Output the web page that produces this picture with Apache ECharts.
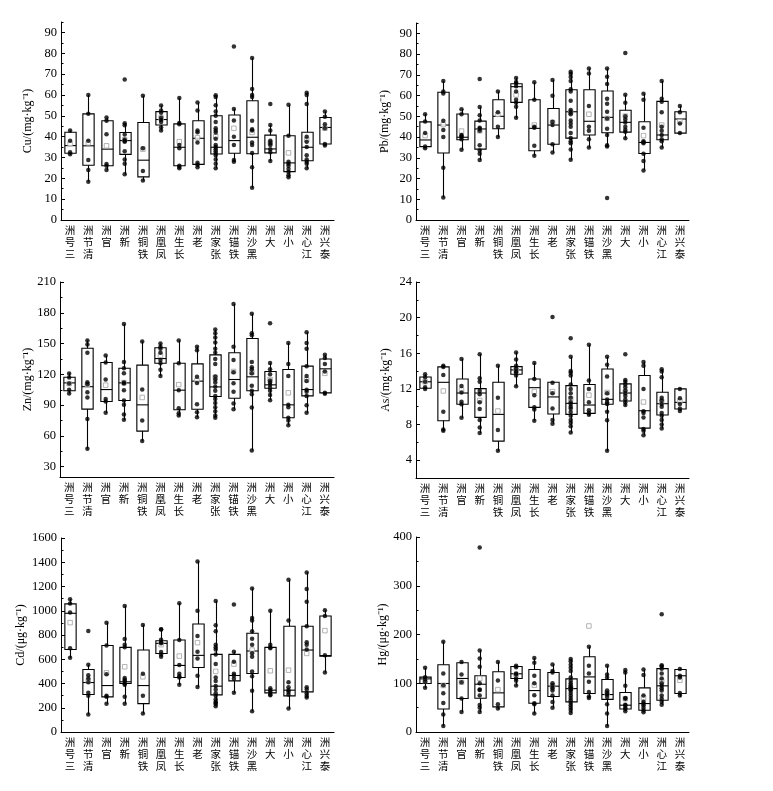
<!DOCTYPE html>
<html><head><meta charset="utf-8">
<script src="https://cdn.jsdelivr.net/npm/echarts@6/dist/echarts.min.js"></script>
<style>html,body{margin:0;padding:0;background:#fff}#c{width:773px;height:791px}</style>
</head><body><div id="c"></div>
<script>
const categories = ['三号洲','清节洲','官洲','新洲','铁铜洲','凤凰洲','长生洲','老洲','张家洲','铁锚洲','黑沙洲','大洲','小洲','江心洲','泰兴洲'];

// box stats: [lower whisker, Q1, median, Q3, upper whisker]
const cuBox = [[31.2,32,35.7,42.1,43],[18.4,26.3,35.6,50.9,60],[24,26,34,47.6,49.2],[21.9,31.5,38.1,42,46.4],[18.9,20.7,28.7,46.8,59.6],[43,45.6,48.2,52,54.9],[24.8,26,34.9,46.1,58.5],[25.3,26.7,39.2,47.6,56.4],[24.8,31.7,34.9,50,59.6],[28,32,38.1,50.4,53.2],[15.5,31.8,39.7,57.2,77.7],[28.3,32.2,34.1,40.7,45.6],[20.5,23.2,27.4,40.4,55.3],[24.8,28.4,34.9,42.1,61.2],[35.7,36.5,44.4,49.2,52]];
const cuMean = [36.5,37,35.6,38.5,34,49,37.6,39.5,40,44,42,37,32.2,38.5,44];
const cuPts = [[43,38,32.5,31.5],[60,51,38,28.8,24,18.4],[49.2,47.6,41.2,26.9,26,24],[67.4,46.4,45.5,41,38.5,38,37.5,33,29,27,21.9],[59.6,34.4,23.5,18.9],[54.9,52.5,51.5,49,48,47,44.5,43],[58.5,46.5,46,36,34.4,26,25.5,24.8],[56.4,52.5,42.9,42.1,37.2,27.5,26.5,25.3],[59.8,59,55,52,50,47,44,43,42,39,36,35,34,33,32,31,29,27,24.8],[83.3,53.2,47.7,40,36,28.8,28],[77.7,62.9,60,59,47.6,43.6,43,37.2,36,32.2,25.3,15.5],[55.7,45.6,43,38,37,36,34,32.5,28.3],[55.3,40.4,27.9,27,26,24.5,23,21.5,20.5],[61,60,55.6,40,37.5,35,31.1,29,28,27,24.8],[52,49.5,46,44,36.5,35.8]];

const pbBox = [[34.6,35.4,38.6,47.3,51.1],[10.9,32.3,45.8,61.6,67],[33.9,38.7,39.9,51.1,53.4],[28.9,34.2,43.9,47.7,54.5],[40,44,50,58,62],[49.3,56.7,64.3,65.7,68.5],[31,33.4,44.2,58,66.4],[32.5,36.5,45.8,53.8,67.5],[29.1,39.5,52.2,62.8,71.5],[35,41,47.6,62.8,73],[35.4,42.1,49.5,62.2,73],[39.4,42.4,47.1,52.9,60.4],[23.9,32.1,37.4,47.4,60.9],[35,38.7,41,57.2,67],[41.9,41.9,48.7,52.2,55]];
const pbMean = [40.7,46,42.9,43,51,60.3,45.8,47,52,51,49,50.1,40.7,45.8,47.5];
const pbPts = [[51,47.5,42,35.5,34.6],[67,62,61,47.9,43.4,40,25.2,10.9],[53.4,51,41,40.5,40,39,33.9],[68,54.5,50.5,48,44.5,44,43,36,33.5,32,28.9],[62,52,45,40],[68.5,66.5,66,64.5,62,58,56.5,54.6,49.3],[66.4,58,45,44.5,35.8,31],[67.5,59.9,47.4,45.8,36.5,32.5],[71.5,70.5,69,67,63,62,57.5,53,52,51,48,46.5,45,42,39.5,38,37,34,29.1],[73,70.6,55,45,43,39,35],[73,69.1,65.6,58.5,56.1,52.2,49,44,41,36,35.4,10.6],[80.5,60.4,56.5,50,48.5,47,45,43.5,42.5,39.4],[60.9,58,44.5,38,37.5,37,32,28.5,23.9],[67,58.5,57,52,45,43,41,39,38,35],[55,52,46.5,41.9]];

const znBox = [[101.4,104,111.7,117.2,120.8],[47.5,86.1,108,145.5,153],[82.5,93.6,105.2,131.5,138.3],[75.7,94.5,111.7,126,169],[55,64.7,90.3,129,152],[118.5,130.9,135.4,146,150],[79,85.5,104.6,130.9,153],[78.3,86,113.4,130.2,147],[77.7,98.4,107.8,139,163.6],[86,96.8,115,141,188.6],[45.9,104,117.6,154.9,179],[94.9,106.5,109.8,122.8,131],[70.5,77.7,90.3,124.7,150.6],[82.5,99,105.2,128,161],[101,102,125.4,135,139]];
const znMean = [111,110,109.5,112,97.5,138.3,110,114,117,122.8,121.8,115,102,114.7,121];
const znPts = [[120.8,117,111,105,101.4],[153,149,141,112.4,110.4,102.6,97.5,76.4,47.5],[138.3,131.5,115,96,93.6,82.5],[169,132,126,121,112,111,104.6,94.5,90.3,81,75.7],[152,105.2,75,55],[150,147,145,141,134,130.9,124.4,118.5],[153,130.9,104.6,87,82,80],[147,143.5,117.6,111.7,91,83,78.3],[163.6,160,156,151,145,141,135,130,118,115,112,108,104,99,96,92,88,84,80,77.7],[188.6,147,134,122,111.4,103,91.6,86],[179,160,158,132,127,125,121,109,104,100.7,87.7,45.9],[169.8,131,125,120,114,112,110,107,104,100,94.9],[150.6,130,118.5,90.3,88,77.7,75,70.5],[161,150.6,145,128,118.5,113.5,105,103,99,90,82.5],[139,136,130,122.8,102,101]];

const asBox = [[12,12.07,12.8,13.34,13.64],[7.3,8.43,12.74,14.47,14.6],[8.77,10.27,11.54,13.12,15.37],[7.04,8.8,11.54,12.03,15.9],[5.05,6.14,9.14,12.74,14.6],[12.3,13.64,14.13,14.5,16.1],[8.43,9.93,12.14,13.12,14.92],[8.1,9.18,11.1,12.74,12.74],[7.1,9.14,10.38,12.37,15.6],[8.95,9.25,10.19,12.5,16.95],[5.05,10.27,10.83,14.24,15.6],[10.1,10.64,11.54,12.56,13],[6.8,7.6,9.55,13.5,15.03],[7.56,9.07,10.34,11.62,14.2],[9.52,9.74,10.49,12,12.1]];
const asMean = [12.8,11.77,11.88,10.7,9.52,14.1,11.7,11.7,10.9,11.3,11.6,11.7,10.53,10.6,10.6];
const asPts = [[13.64,13.3,12.8,12.2,12],[14.6,14.47,13.57,9.44,7.45,7.3],[15.37,12.33,11.6,10.57,10.27,8.77],[15.9,13.2,12.8,11.8,11.4,10.5,9.74,8.5,7.67,7.04],[14.6,11,7.38,5.05],[16.1,15.3,14.6,14.3,14,13.8,13.5,12.3],[14.92,13.1,11.3,9.93,9.7,8.43],[20.06,12.7,11.5,9.8,8.5,8.1],[17.7,15.6,14,13.8,13.5,12.5,12,11.5,11,10.5,10.3,10,9.8,9.4,9,8.5,8.2,7.8,7.1],[16.95,12.93,12,10.5,9.6,9.3,9.1],[15.6,14.7,13.4,11.5,10.8,10.5,10.3,9.44,8.47,5.05],[15.9,13,12.8,12.5,12.2,11.8,11.5,11.2,10.8,10.5,10.2],[15.03,14.6,12,9.5,9.3,8.8,7.5,7.3,6.8],[14.2,13.95,13.3,11,10.7,10.3,10,9.3,9,8.5,8,7.56],[12,10.94,10.3,9.8,9.52]];

const cdBox = [[612,681,979,1057,1095],[145,309,408,516,554],[232,290,383,714,902],[234,400,414,698,1040],[152,234,383,676,883],[621,648,731,753,847],[389,450,549,759,1062],[372,532,632,891,1407],[212,306,378,640,1081],[323,422,466,640,662],[171,483,668,814,1183],[303,323,345,698,1001],[193,298,345,872,1255],[284,331,676,872,1316],[491,626,630,957,1005]];
const cdMean = [902,420,488,538,455,720,626,737,500,560,676,505,510,648,836];
const cdPts = [[1095,1060,985,690,612],[833,554,469,441,410,323,298,145],[902,714,477,298,290,232],[1040,767,720,698,445,430,420,400,390,290,234],[883,480,298,152],[847,845,760,740,731,660,640,621],[1062,759,552,480,460,450,389],[1407,1001,792,662,607,463,372],[1081,880,830,720,700,680,640,560,450,420,380,350,320,300,270,250,240,230,212],[1051,662,580,480,466,440,323],[1183,940,920,830,770,720,650,620,500,460,340,171],[1001,720,700,690,360,345,330,310,303],[1255,920,410,370,345,330,310,193],[1316,1180,1075,872,740,720,680,370,350,320,300,284],[1005,957,632,491]];

const hgBox = [[90.6,99.5,109,112.5,131.7],[12.3,47.3,99.5,138,185],[41.2,68.6,109.8,142,143.4],[41,69.3,98,115.3,167.4],[46.7,51.5,80.3,123.5,143.4],[95.4,109.8,119.4,134.5,136],[37.7,59,85,128.3,151.6],[50,72.7,94,122,138.6],[39,61.7,89,109,150],[70,79,113,154.4,175],[12.3,67,76.8,107.7,136],[42.5,47.3,55,81,127],[40.5,44.6,58.3,90.6,128.3],[56,65,94.7,130,137],[72,79,115.3,128.3,130]];
const hgMean = [105,95.4,102,110,87,117,96,95,90,217.5,80,68,70,104.3,106];
const hgPts = [[131.7,112.5,108,103,90.6],[185,120,96,79.6,59.7,35.7,12.3],[143.4,118,102,68.6,41.2],[378.7,167.4,151,133.8,100,87,86,75,55.6,50,41],[143.4,105.7,57,48],[136,133,120,118,109.8,105,95.4],[151.6,142,115.3,100,75.5,59,57,37.7],[138.6,125,122,100,95,90,85,75,61.7,50],[150,145,138,132,125,112,105,100,96,92,90,88,85,80,75,70,65,60,55,50,45,39],[175,136,120,103,82,73,70],[136,118,112,85,80,76.8,72,57,37.7,12.3],[127,122,95,70,68,56,55,50,47.3,42.5],[128.3,117,74.8,62,58.3,55,50,44.6,40.5],[241.5,137,135,130,120,110,100,94.7,90,85,75,68,62,56],[129,115.3,112,80,75]];

const yNames = ['Cu/(mg·kg⁻¹)','Pb/(mg·kg⁻¹)','Zn/(mg·kg⁻¹)','As/(mg·kg⁻¹)','Cd/(μg·kg⁻¹)','Hg/(μg·kg⁻¹)'];
const yMin = [0,0,20,2,0,0];
const yMax = [95,95,210,24,1600,400];
const yMajor = [[0,10,20,30,40,50,60,70,80,90],[0,10,20,30,40,50,60,70,80,90],[30,60,90,120,150,180,210],[4,8,12,16,20,24],[0,200,400,600,800,1000,1200,1400,1600],[0,100,200,300,400]];
const yMinor = [[5,15,25,35,45,55,65,75,85,95],[5,15,25,35,45,55,65,75,85,95],[45,75,105,135,165,195],[2,6,10,14,18,22],[100,300,500,700,900,1100,1300,1500],[50,150,250,350]];

const panels = [
  {box:cuBox, mean:cuMean, pts:cuPts, grid:{left:61,top:22,width:273,height:198}, gap:27},
  {box:pbBox, mean:pbMean, pts:pbPts, grid:{left:416,top:23,width:273,height:197}, gap:25},
  {box:znBox, mean:znMean, pts:znPts, grid:{left:60,top:282,width:274,height:195}, gap:25},
  {box:asBox, mean:asMean, pts:asPts, grid:{left:416,top:282,width:273,height:196}, gap:24},
  {box:cdBox, mean:cdMean, pts:cdPts, grid:{left:61,top:538,width:273,height:194}, gap:34},
  {box:hgBox, mean:hgMean, pts:hgPts, grid:{left:416,top:537,width:273,height:195}, gap:27}
];

const serif = '"Liberation Serif","Times New Roman",serif';
const cjk = '"Noto Sans CJK SC","Noto Sans CJK JP",sans-serif';

function renderBox(params, api) {
  const x = api.value(0);
  const lo = api.coord([x, api.value(1)]);
  const q1 = api.coord([x, api.value(2)]);
  const md = api.coord([x, api.value(3)]);
  const q3 = api.coord([x, api.value(4)]);
  const hi = api.coord([x, api.value(5)]);
  const w = api.size([1, 0])[0] * 0.62;
  const cx = Math.round(q1[0]) + 0.5;
  const st = {stroke:'#000', lineWidth:1.1, fill:'none'};
  return {type:'group', children:[
    {type:'line', shape:{x1:cx,y1:hi[1],x2:cx,y2:q3[1]}, style:st},
    {type:'line', shape:{x1:cx,y1:q1[1],x2:cx,y2:lo[1]}, style:st},
    {type:'rect', shape:{x:cx-w/2,y:q3[1],width:w,height:q1[1]-q3[1]}, style:st},
    {type:'line', shape:{x1:cx-w/2,y1:md[1],x2:cx+w/2,y2:md[1]}, style:st}
  ]};
}

const grid = [], xAxis = [], yAxis = [], series = [];
panels.forEach((p, i) => {
  grid.push(p.grid);
  xAxis.push({type:'category', gridIndex:i, data:categories, boundaryGap:true,
    axisLine:{lineStyle:{color:'#000', width:1}},
    axisTick:{inside:true, alignWithLabel:true, length:4, lineStyle:{color:'#000'}},
    axisLabel:{interval:0, margin:4, color:'#000', fontFamily:cjk, fontSize:10.5, lineHeight:12,
      formatter:v => v.split('').reverse().join('\n')},
    splitLine:{show:false}});
  yAxis.push({type:'value', gridIndex:i, position:'left', offset:0, min:yMin[i], max:yMax[i],
    name:yNames[i], nameLocation:'middle', nameGap:p.gap, nameRotate:90,
    nameTextStyle:{fontFamily:serif, fontSize:12, color:'#000'},
    axisLine:{show:true, lineStyle:{color:'#000', width:1}},
    axisTick:{show:true, inside:true, length:4, customValues:yMajor[i], lineStyle:{color:'#000'}},
    axisLabel:{show:true, customValues:yMajor[i], margin:4, color:'#000', fontFamily:serif, fontSize:12.5,
      formatter:v => String(v)},
    splitLine:{show:false}});
  yAxis.push({type:'value', gridIndex:i, position:'left', offset:0, min:yMin[i], max:yMax[i],
    axisLine:{show:false}, axisLabel:{show:false}, splitLine:{show:false},
    axisTick:{show:true, inside:true, length:2.5, customValues:yMinor[i], lineStyle:{color:'#000'}}});
  series.push({type:'custom', xAxisIndex:i, yAxisIndex:2*i, renderItem:renderBox, clip:false, silent:true,
    encode:{x:0, y:[1,2,3,4,5]}, data:p.box.map((b,j)=>[j].concat(b)), z:2});
  series.push({type:'scatter', xAxisIndex:i, yAxisIndex:2*i, symbol:'rect', symbolSize:4.5, silent:true,
    itemStyle:{color:'#fff', borderColor:'#a0a0a0', borderWidth:1}, data:p.mean.map((m,j)=>[j,m]), z:3});
  const pts = [];
  p.pts.forEach((arr,j) => arr.forEach(v => pts.push([j, v])));
  series.push({type:'scatter', xAxisIndex:i, yAxisIndex:2*i, symbol:'circle', symbolSize:4.5, silent:true,
    itemStyle:{color:'#000'}, data:pts, z:4});
});

const chart = echarts.init(document.getElementById('c'), null, {renderer:'canvas'});
chart.setOption({animation:false, backgroundColor:'#fff', grid, xAxis, yAxis, series});
</script></body></html>
